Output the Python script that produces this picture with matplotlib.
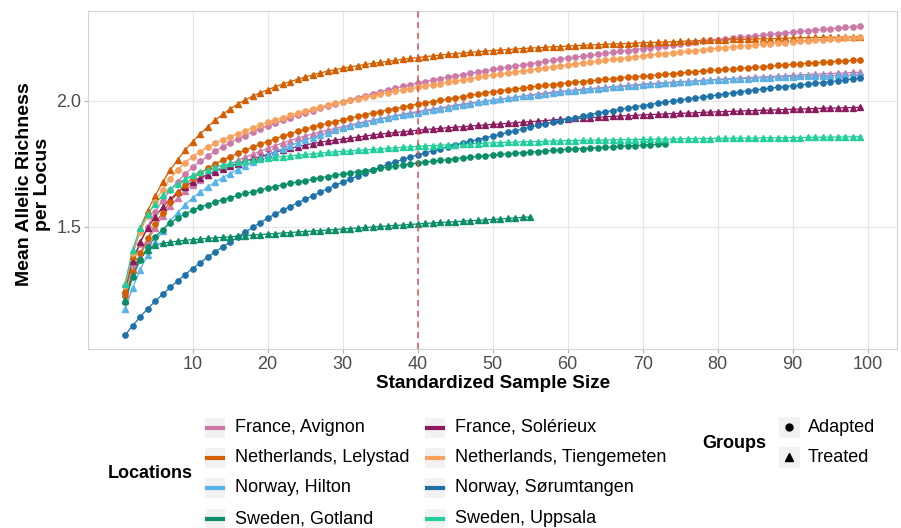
import matplotlib
matplotlib.use("Agg")
import matplotlib.pyplot as plt
from matplotlib.patches import Rectangle
from matplotlib.lines import Line2D

plt.rcParams['font.family'] = ['Liberation Sans', 'DejaVu Sans']

# rarefaction curves (sample size 1..n)
avignon_adapted = [
    1.240, 1.350, 1.433, 1.500, 1.560, 1.605, 1.645, 1.680, 1.710, 1.737,
    1.760, 1.781, 1.800, 1.818, 1.834, 1.849, 1.863, 1.877, 1.890, 1.902,
    1.913, 1.923, 1.933, 1.943, 1.953, 1.962, 1.971, 1.980, 1.989, 1.997,
    2.005, 2.013, 2.021, 2.029, 2.037, 2.044, 2.051, 2.058, 2.065, 2.071,
    2.077, 2.083, 2.089, 2.095, 2.100, 2.105, 2.110, 2.115, 2.120, 2.125,
    2.130, 2.134, 2.139, 2.143, 2.148, 2.152, 2.157, 2.161, 2.166, 2.170,
    2.174, 2.178, 2.181, 2.185, 2.189, 2.193, 2.197, 2.200, 2.204, 2.208,
    2.212, 2.215, 2.219, 2.222, 2.226, 2.229, 2.233, 2.236, 2.240, 2.243,
    2.246, 2.249, 2.252, 2.255, 2.258, 2.261, 2.264, 2.267, 2.270, 2.273,
    2.276, 2.278, 2.281, 2.284, 2.286, 2.289, 2.292, 2.294, 2.297]
avignon_treated = [
    1.205, 1.305, 1.385, 1.445, 1.497, 1.543, 1.582, 1.615, 1.643, 1.667,
    1.688, 1.706, 1.722, 1.737, 1.750, 1.764, 1.777, 1.789, 1.801, 1.812,
    1.823, 1.833, 1.843, 1.852, 1.861, 1.869, 1.877, 1.884, 1.891, 1.898,
    1.905, 1.912, 1.918, 1.924, 1.930, 1.936, 1.942, 1.948, 1.953, 1.958,
    1.963, 1.968, 1.973, 1.978, 1.983, 1.988, 1.992, 1.996, 2.000, 2.004,
    2.008, 2.012, 2.016, 2.020, 2.024, 2.028, 2.032, 2.035, 2.038, 2.041,
    2.044, 2.047, 2.049, 2.052, 2.054, 2.057, 2.059, 2.062, 2.064, 2.067,
    2.069, 2.071, 2.073, 2.075, 2.077, 2.078, 2.080, 2.082, 2.084, 2.086,
    2.088, 2.089, 2.091, 2.093, 2.094, 2.096, 2.097, 2.099, 2.100, 2.102,
    2.103, 2.105, 2.106, 2.108, 2.109, 2.110, 2.111, 2.113, 2.114]
solerieux_treated = [
    1.250, 1.365, 1.440, 1.495, 1.540, 1.578, 1.610, 1.637, 1.660, 1.680,
    1.695, 1.708, 1.720, 1.731, 1.741, 1.751, 1.761, 1.770, 1.779, 1.788,
    1.797, 1.805, 1.812, 1.819, 1.825, 1.831, 1.836, 1.841, 1.845, 1.849,
    1.853, 1.857, 1.861, 1.865, 1.869, 1.872, 1.875, 1.878, 1.881, 1.884,
    1.887, 1.889, 1.891, 1.894, 1.896, 1.898, 1.900, 1.903, 1.905, 1.907,
    1.909, 1.911, 1.914, 1.916, 1.918, 1.920, 1.922, 1.925, 1.927, 1.929,
    1.931, 1.932, 1.934, 1.935, 1.937, 1.939, 1.940, 1.942, 1.943, 1.945,
    1.946, 1.947, 1.949, 1.950, 1.951, 1.952, 1.953, 1.955, 1.956, 1.957,
    1.958, 1.959, 1.960, 1.961, 1.962, 1.963, 1.964, 1.965, 1.966, 1.967,
    1.968, 1.969, 1.970, 1.971, 1.972, 1.972, 1.973, 1.974, 1.975]
lelystad_adapted = [
    1.225, 1.320, 1.395, 1.455, 1.510, 1.557, 1.600, 1.636, 1.667, 1.693,
    1.714, 1.733, 1.750, 1.765, 1.779, 1.792, 1.805, 1.817, 1.828, 1.839,
    1.850, 1.860, 1.870, 1.879, 1.888, 1.896, 1.904, 1.911, 1.918, 1.925,
    1.932, 1.939, 1.946, 1.952, 1.958, 1.964, 1.970, 1.976, 1.982, 1.987,
    1.992, 1.997, 2.002, 2.007, 2.012, 2.017, 2.022, 2.027, 2.032, 2.037,
    2.041, 2.044, 2.048, 2.051, 2.055, 2.058, 2.062, 2.065, 2.069, 2.072,
    2.075, 2.077, 2.080, 2.083, 2.086, 2.088, 2.091, 2.094, 2.096, 2.099,
    2.101, 2.104, 2.106, 2.109, 2.111, 2.113, 2.116, 2.118, 2.121, 2.123,
    2.125, 2.127, 2.130, 2.132, 2.134, 2.136, 2.138, 2.141, 2.143, 2.145,
    2.147, 2.149, 2.151, 2.153, 2.155, 2.157, 2.159, 2.161, 2.163]
lelystad_treated = [
    1.250, 1.385, 1.495, 1.565, 1.623, 1.678, 1.725, 1.767, 1.805, 1.838,
    1.869, 1.897, 1.923, 1.947, 1.968, 1.987, 2.004, 2.019, 2.032, 2.044,
    2.056, 2.067, 2.077, 2.086, 2.095, 2.103, 2.111, 2.118, 2.124, 2.130,
    2.135, 2.140, 2.145, 2.149, 2.153, 2.157, 2.161, 2.165, 2.169, 2.172,
    2.176, 2.179, 2.182, 2.185, 2.188, 2.190, 2.193, 2.195, 2.198, 2.200,
    2.202, 2.204, 2.206, 2.208, 2.210, 2.211, 2.213, 2.215, 2.216, 2.218,
    2.219, 2.221, 2.222, 2.223, 2.225, 2.226, 2.227, 2.228, 2.230, 2.231,
    2.232, 2.233, 2.234, 2.235, 2.236, 2.238, 2.239, 2.240, 2.241, 2.242,
    2.243, 2.244, 2.244, 2.245, 2.246, 2.247, 2.247, 2.248, 2.249, 2.250,
    2.251, 2.251, 2.252, 2.252, 2.253, 2.253, 2.254, 2.254, 2.255]
tiengemeten_adapted = [
    1.265, 1.395, 1.480, 1.545, 1.600, 1.648, 1.690, 1.726, 1.755, 1.779,
    1.799, 1.817, 1.833, 1.846, 1.858, 1.870, 1.882, 1.893, 1.904, 1.915,
    1.925, 1.934, 1.943, 1.952, 1.960, 1.968, 1.976, 1.983, 1.990, 1.997,
    2.003, 2.009, 2.015, 2.021, 2.027, 2.033, 2.039, 2.044, 2.049, 2.054,
    2.059, 2.064, 2.069, 2.074, 2.079, 2.084, 2.089, 2.094, 2.099, 2.103,
    2.107, 2.111, 2.115, 2.119, 2.123, 2.127, 2.131, 2.135, 2.139, 2.143,
    2.147, 2.150, 2.154, 2.157, 2.161, 2.165, 2.168, 2.172, 2.175, 2.179,
    2.182, 2.185, 2.188, 2.191, 2.194, 2.197, 2.200, 2.203, 2.206, 2.209,
    2.212, 2.214, 2.217, 2.219, 2.222, 2.225, 2.227, 2.230, 2.232, 2.235,
    2.237, 2.239, 2.241, 2.243, 2.245, 2.247, 2.249, 2.251, 2.253]
hilton_treated = [
    1.173, 1.258, 1.330, 1.390, 1.440, 1.485, 1.523, 1.557, 1.588, 1.615,
    1.638, 1.659, 1.678, 1.696, 1.712, 1.728, 1.743, 1.758, 1.772, 1.786,
    1.799, 1.811, 1.823, 1.834, 1.845, 1.855, 1.865, 1.874, 1.883, 1.892,
    1.900, 1.907, 1.914, 1.921, 1.927, 1.933, 1.939, 1.944, 1.949, 1.954,
    1.959, 1.964, 1.969, 1.974, 1.979, 1.984, 1.989, 1.994, 1.998, 2.002,
    2.006, 2.010, 2.014, 2.018, 2.021, 2.025, 2.028, 2.032, 2.035, 2.038,
    2.041, 2.044, 2.046, 2.049, 2.051, 2.054, 2.056, 2.059, 2.061, 2.064,
    2.066, 2.068, 2.070, 2.072, 2.074, 2.076, 2.078, 2.080, 2.082, 2.084,
    2.085, 2.087, 2.088, 2.089, 2.091, 2.092, 2.093, 2.094, 2.096, 2.097,
    2.098, 2.099, 2.100, 2.100, 2.101, 2.102, 2.102, 2.103, 2.104]
sorumtangen_adapted = [
    1.071, 1.108, 1.143, 1.175, 1.205, 1.233, 1.260, 1.286, 1.311, 1.335,
    1.358, 1.380, 1.401, 1.421, 1.440, 1.460, 1.479, 1.498, 1.517, 1.535,
    1.551, 1.566, 1.581, 1.596, 1.610, 1.624, 1.638, 1.652, 1.665, 1.678,
    1.690, 1.702, 1.714, 1.726, 1.737, 1.748, 1.758, 1.768, 1.777, 1.786,
    1.794, 1.802, 1.810, 1.818, 1.826, 1.833, 1.840, 1.847, 1.854, 1.861,
    1.868, 1.875, 1.882, 1.889, 1.896, 1.903, 1.910, 1.916, 1.922, 1.928,
    1.934, 1.940, 1.946, 1.952, 1.957, 1.962, 1.967, 1.972, 1.977, 1.982,
    1.986, 1.991, 1.995, 2.000, 2.004, 2.008, 2.012, 2.016, 2.020, 2.024,
    2.028, 2.032, 2.036, 2.040, 2.044, 2.048, 2.051, 2.054, 2.057, 2.060,
    2.063, 2.067, 2.070, 2.073, 2.077, 2.080, 2.083, 2.087, 2.090]
gotland_adapted = [
    1.204, 1.300, 1.368, 1.420, 1.460, 1.490, 1.515, 1.536, 1.552, 1.566,
    1.578, 1.589, 1.599, 1.608, 1.617, 1.625, 1.633, 1.640, 1.647, 1.654,
    1.660, 1.667, 1.673, 1.678, 1.684, 1.689, 1.695, 1.700, 1.705, 1.710,
    1.715, 1.719, 1.724, 1.728, 1.733, 1.737, 1.741, 1.746, 1.750, 1.754,
    1.758, 1.761, 1.764, 1.767, 1.771, 1.774, 1.777, 1.780, 1.783, 1.786,
    1.788, 1.790, 1.793, 1.795, 1.797, 1.799, 1.801, 1.804, 1.806, 1.808,
    1.810, 1.811, 1.813, 1.815, 1.816, 1.818, 1.820, 1.822, 1.823, 1.825,
    1.827, 1.828, 1.830]
gotland_treated = [
    1.210, 1.310, 1.372, 1.410, 1.428, 1.436, 1.440, 1.444, 1.447, 1.450,
    1.452, 1.455, 1.457, 1.459, 1.461, 1.463, 1.466, 1.468, 1.470, 1.472,
    1.474, 1.476, 1.478, 1.480, 1.482, 1.484, 1.486, 1.488, 1.490, 1.492,
    1.494, 1.496, 1.498, 1.500, 1.502, 1.504, 1.506, 1.508, 1.510, 1.512,
    1.514, 1.516, 1.518, 1.519, 1.521, 1.523, 1.525, 1.526, 1.528, 1.530,
    1.532, 1.534, 1.536, 1.538, 1.540]
uppsala_treated = [
    1.274, 1.410, 1.495, 1.550, 1.592, 1.625, 1.650, 1.672, 1.690, 1.705,
    1.717, 1.728, 1.737, 1.745, 1.752, 1.757, 1.761, 1.765, 1.769, 1.772,
    1.776, 1.779, 1.782, 1.785, 1.788, 1.791, 1.793, 1.796, 1.798, 1.800,
    1.802, 1.804, 1.806, 1.808, 1.810, 1.812, 1.814, 1.816, 1.818, 1.820,
    1.822, 1.823, 1.824, 1.826, 1.827, 1.829, 1.830, 1.831, 1.833, 1.834,
    1.835, 1.836, 1.837, 1.838, 1.839, 1.839, 1.840, 1.841, 1.842, 1.843,
    1.843, 1.844, 1.844, 1.845, 1.845, 1.846, 1.846, 1.847, 1.847, 1.848,
    1.848, 1.849, 1.849, 1.849, 1.850, 1.850, 1.851, 1.851, 1.851, 1.852,
    1.852, 1.852, 1.853, 1.853, 1.853, 1.854, 1.854, 1.854, 1.855, 1.855,
    1.855, 1.856, 1.856, 1.856, 1.857, 1.857, 1.857, 1.858, 1.858]

locations = ["France, Avignon", "France, Solérieux",
             "Netherlands, Lelystad", "Netherlands, Tiengemeten",
             "Norway, Hilton", "Norway, Sørumtangen",
             "Sweden, Gotland", "Sweden, Uppsala"]
loc_colors = ["#CC79A7", "#8B1A5E", "#D55E00", "#F7A15C",
              "#56B4E9", "#1F72A8", "#0B8E67", "#22CF9C"]
groups = ["Adapted", "Treated"]
group_markers = ["o", "^"]
cutoff = 40

series = [
    ("France, Avignon", "Adapted", avignon_adapted),
    ("France, Avignon", "Treated", avignon_treated),
    ("France, Solérieux", "Treated", solerieux_treated),
    ("Netherlands, Lelystad", "Adapted", lelystad_adapted),
    ("Netherlands, Lelystad", "Treated", lelystad_treated),
    ("Netherlands, Tiengemeten", "Adapted", tiengemeten_adapted),
    ("Norway, Hilton", "Treated", hilton_treated),
    ("Norway, Sørumtangen", "Adapted", sorumtangen_adapted),
    ("Sweden, Gotland", "Adapted", gotland_adapted),
    ("Sweden, Gotland", "Treated", gotland_treated),
    ("Sweden, Uppsala", "Treated", uppsala_treated),
]

W, H = 901, 528
def fx(px): return px / W
def fy(py): return 1 - py / H

fig = plt.figure(figsize=(W / 100, H / 100), dpi=100)
ax = fig.add_axes([fx(88.3), fy(349.3), (897 - 88.3) / W, (349.3 - 11) / H])

# lines first, points on top (like geom_line + geom_point)
for loc, grp, vals in series:
    c = loc_colors[locations.index(loc)]
    xs = list(range(1, len(vals) + 1))
    ax.plot(xs, vals, color=c, lw=0.9, zorder=2)
for loc, grp, vals in series:
    c = loc_colors[locations.index(loc)]
    m = group_markers[groups.index(grp)]
    xs = list(range(1, len(vals) + 1))
    ax.plot(xs, vals, ls='none', marker=m, ms=3.8 if m == 'o' else 4.4,
            color=c, mec=c, zorder=3)

ax.axvline(cutoff, color="#E05252", ls=(0, (4, 3)), lw=1.1, zorder=4)

ax.set_xlim(-3.9, 103.9)
ax.set_ylim(1.0147, 2.357)
ax.set_xticks(range(10, 101, 10))
ax.set_yticks([1.5, 2.0])
ax.set_yticklabels(["1.5", "2.0"])
ax.grid(color="#E6E6E6", lw=0.8)
ax.set_axisbelow(True)
for s in ax.spines.values():
    s.set_color("#D4D4D4")
    s.set_linewidth(0.8)
ax.tick_params(colors="#B3B3B3", length=3, width=0.8, labelsize=13,
               labelcolor="#4D4D4D", pad=2)

fig.text(fx(492.6), fy(383), "Standardized Sample Size", fontsize=13.6,
         fontweight="bold", ha="center", va="center")
fig.text(fx(33.5), fy(184), "Mean Allelic Richness\nper Locus", fontsize=14,
         fontweight="bold", ha="center", va="center", rotation=90,
         multialignment="center", linespacing=1.05)

# legend: locations (2 columns, filled by row)
fig.text(fx(108), fy(473), "Locations", fontsize=13, fontweight="bold",
         ha="left", va="center")
row_y = [427.5, 457.5, 488, 518.5]
col_x = [215, 435]
for i, (loc, c) in enumerate(zip(locations, loc_colors)):
    cx, cy = col_x[i % 2], row_y[i // 2]
    fig.add_artist(Rectangle((fx(cx - 10), fy(cy + 10)), 20 / W, 20 / H,
                             transform=fig.transFigure, fc="#F2F2F2", ec="none"))
    fig.add_artist(Line2D([fx(cx - 8), fx(cx + 8)], [fy(cy), fy(cy)],
                          transform=fig.transFigure, color=c, lw=3))
    fig.text(fx(cx + 20), fy(cy), loc, fontsize=13, ha="left", va="center")

# legend: groups
fig.text(fx(702.7), fy(443), "Groups", fontsize=13, fontweight="bold",
         ha="left", va="center")
for j, (g, m) in enumerate(zip(groups, group_markers)):
    cy = [427, 457][j]
    fig.add_artist(Rectangle((fx(778.5), fy(cy + 10.5)), 21 / W, 21 / H,
                             transform=fig.transFigure, fc="#F2F2F2", ec="none"))
    fig.add_artist(Line2D([fx(789)], [fy(cy)], transform=fig.transFigure,
                          ls="none", marker=m, ms=5 if m == "o" else 6,
                          color="black"))
    fig.text(fx(808), fy(cy), g, fontsize=13, ha="left", va="center")

fig.savefig("out.png", dpi=100)
